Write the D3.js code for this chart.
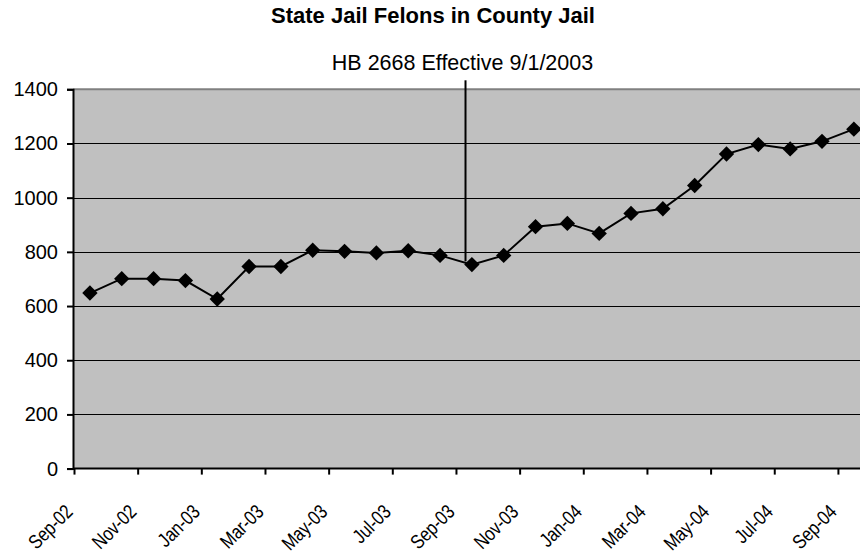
<!DOCTYPE html>
<html>
<head>
<meta charset="utf-8">
<script src="https://cdn.jsdelivr.net/npm/d3@7"></script>
<style>
  html, body { margin: 0; padding: 0; background: #fff; }
  svg { display: block; font-family: Arial, "Liberation Sans", sans-serif; }
</style>
</head>
<body>
<svg id="chart" width="860" height="554"></svg>
<script>
// ---- data ----
const months = ["Sep-02","Oct-02","Nov-02","Dec-02","Jan-03","Feb-03","Mar-03","Apr-03","May-03","Jun-03","Jul-03","Aug-03",
                "Sep-03","Oct-03","Nov-03","Dec-03","Jan-04","Feb-04","Mar-04","Apr-04","May-04","Jun-04","Jul-04","Aug-04","Sep-04"];
const jailCounts = [648, 701, 701, 694, 626, 746, 746, 806, 802, 796, 804, 787,
                    753, 787, 893, 905, 868, 942, 959, 1045, 1161, 1196, 1180, 1208, 1253];
const yTicks = [0, 200, 400, 600, 800, 1000, 1200, 1400];
const xTickLabels = ["Sep-02","Nov-02","Jan-03","Mar-03","May-03","Jul-03","Sep-03","Nov-03","Jan-04","Mar-04","May-04","Jul-04","Sep-04"];
const titleText = "State Jail Felons in County Jail";
const annotationText = "HB 2668 Effective 9/1/2003";
const annotationMonth = "Sep-03";
const annotationEndValue = 765;

// ---- layout ----
const svg = d3.select("#chart");
const W = 860, H = 554;
const plotLeft = 73, plotTop = 89.3, plotBottom = 468.6;
const step = 31.83;
const bandStart = 74;

const x = d3.scaleBand().domain(months).range([bandStart, bandStart + step * months.length]).padding(0);
const xIdx = d3.scaleLinear().domain([0, months.length]).range([bandStart, bandStart + step * months.length]);
const y = d3.scaleLinear().domain([0, 1400]).range([plotBottom, plotTop]);
const cx = m => x(m) + x.bandwidth() / 2;

svg.append("rect").attr("width", W).attr("height", H).attr("fill", "#fff");

// plot area
svg.append("rect")
  .attr("x", plotLeft).attr("y", y(1400))
  .attr("width", 900).attr("height", y(0) - y(1400))
  .attr("fill", "#C0C0C0");
svg.append("line")
  .attr("x1", plotLeft).attr("x2", 900)
  .attr("y1", y(1400)).attr("y2", y(1400))
  .attr("stroke", "#808080").attr("stroke-width", 2);

// gridlines
svg.append("g").selectAll("line")
  .data(yTicks.filter(v => v > 0 && v < 1400))
  .join("line")
  .attr("x1", plotLeft).attr("x2", 900)
  .attr("y1", d => Math.round(y(d)) + 0.5).attr("y2", d => Math.round(y(d)) + 0.5)
  .attr("stroke", "#000").attr("stroke-width", 1);

// y axis
const yAxis = svg.append("g")
  .attr("transform", `translate(${plotLeft},0)`)
  .call(d3.axisLeft(y).tickValues(yTicks).tickSize(6).tickPadding(9).tickFormat(d3.format("d")));
yAxis.select(".domain").attr("stroke", "#000").attr("stroke-width", 2);
yAxis.selectAll(".tick line").attr("stroke", "#000").attr("stroke-width", 2);
yAxis.selectAll(".tick text").attr("font-size", 20).attr("fill", "#000")
  .attr("font-family", "Arial, 'Liberation Sans', sans-serif");

// x axis
const xTickIdx = xTickLabels.map(l => months.indexOf(l));
const xAxis = svg.append("g")
  .attr("transform", `translate(0,${plotBottom})`)
  .call(d3.axisBottom(xIdx).tickValues(xTickIdx).tickSize(6).tickFormat(""));
xAxis.select(".domain").attr("stroke", "#000").attr("stroke-width", 2)
  .attr("d", `M${plotLeft},0H900`);
xAxis.selectAll(".tick line").attr("stroke", "#000").attr("stroke-width", 2);

svg.append("g").selectAll("text")
  .data(xTickLabels)
  .join("text")
  .attr("transform", d => `translate(${xIdx(months.indexOf(d)) - 5},508) rotate(-45) scale(0.82,1)`)
  .attr("text-anchor", "end")
  .attr("dy", "0.35em")
  .attr("font-size", 20)
  .attr("fill", "#000")
  .text(d => d);

// series line
const line = d3.line().x((d, i) => cx(months[i])).y(d => y(d));
svg.append("path")
  .datum(jailCounts)
  .attr("d", line)
  .attr("fill", "none")
  .attr("stroke", "#000")
  .attr("stroke-width", 2);

// markers
svg.append("g").selectAll("path")
  .data(jailCounts)
  .join("path")
  .attr("transform", (d, i) => `translate(${cx(months[i])},${y(d)}) rotate(45)`)
  .attr("d", d3.symbol(d3.symbolSquare, 118)())
  .attr("fill", "#000");

// annotation
const annX = x(annotationMonth) + x.bandwidth() * 0.3;
svg.append("line")
  .attr("x1", annX).attr("x2", annX)
  .attr("y1", y(1400) - 9).attr("y2", y(annotationEndValue))
  .attr("stroke", "#000").attr("stroke-width", 2);
svg.append("text")
  .attr("x", annX - 3).attr("y", 70)
  .attr("text-anchor", "middle")
  .attr("font-size", 21.5)
  .attr("fill", "#000")
  .text(annotationText);

// title
svg.append("text")
  .attr("x", 433).attr("y", 23)
  .attr("text-anchor", "middle")
  .attr("font-size", 22)
  .attr("font-weight", "bold")
  .attr("fill", "#000")
  .text(titleText);
</script>
</body>
</html>
